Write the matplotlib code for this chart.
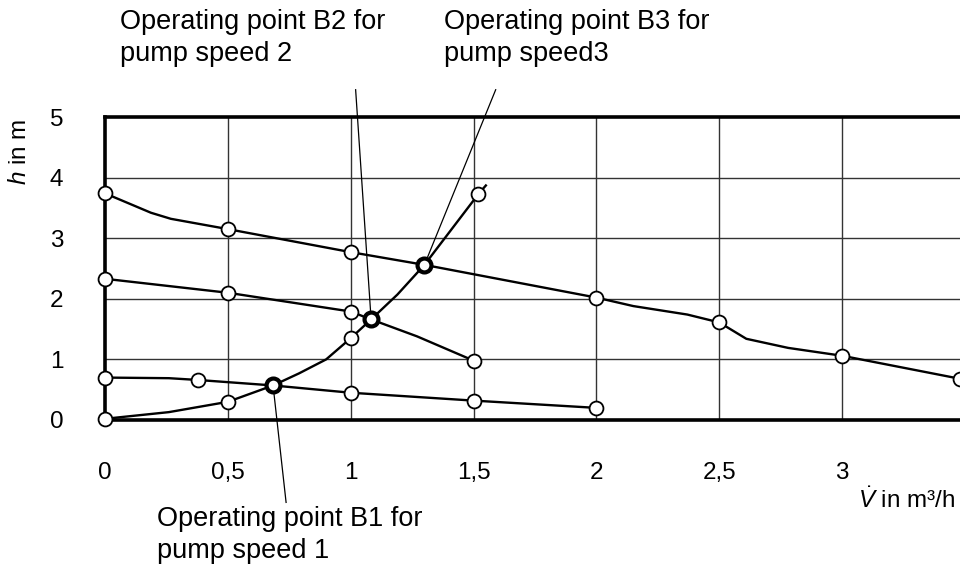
import matplotlib
matplotlib.use('Agg')
import matplotlib.pyplot as plt

plt.rcParams['font.family'] = ['Liberation Sans', 'DejaVu Sans']
plt.rcParams['mathtext.fontset'] = 'custom'
plt.rcParams['mathtext.rm'] = 'Liberation Sans'
plt.rcParams['mathtext.it'] = 'Liberation Sans:italic'

# flow rate V in m3/h, head h in m
speed1_x = [0, 0.26, 0.38, 0.684, 1.0, 1.5, 2.0]
speed1_y = [0.70, 0.69, 0.66, 0.57, 0.45, 0.32, 0.20]
speed1_mx = [0, 0.38, 1.0, 1.5, 2.0]
speed1_my = [0.70, 0.66, 0.45, 0.32, 0.20]

speed2_x = [0, 0.5, 1.0, 1.083, 1.27, 1.5]
speed2_y = [2.33, 2.10, 1.79, 1.66, 1.38, 0.98]
speed2_mx = [0, 0.5, 1.0, 1.5]
speed2_my = [2.33, 2.10, 1.79, 0.98]

speed3_x = [0, 0.187, 0.268, 0.5, 1.0, 1.3, 2.0, 2.15, 2.37, 2.5, 2.61, 2.78, 3.0, 3.48]
speed3_y = [3.74, 3.42, 3.32, 3.15, 2.77, 2.56, 2.02, 1.88, 1.74, 1.61, 1.34, 1.19, 1.06, 0.68]
speed3_mx = [0, 0.5, 1.0, 2.0, 2.5, 3.0, 3.48]
speed3_my = [3.74, 3.15, 2.77, 2.02, 1.61, 1.06, 0.68]

system_x = [0, 0.26, 0.5, 0.684, 0.79, 0.9, 1.0, 1.083, 1.19, 1.3, 1.52, 1.55]
system_y = [0.02, 0.13, 0.30, 0.57, 0.77, 1.0, 1.35, 1.66, 2.07, 2.56, 3.73, 3.87]
system_mx = [0, 0.5, 1.0, 1.52]
system_my = [0.02, 0.30, 1.35, 3.73]

op_x = [0.684, 1.083, 1.30]
op_y = [0.57, 1.66, 2.56]

x_ticks = [0, 0.5, 1, 1.5, 2, 2.5, 3]
x_labels = ['0', '0,5', '1', '1,5', '2', '2,5', '3']
y_ticks = [0, 1, 2, 3, 4, 5]

W, H = 960, 574
fig = plt.figure(figsize=(W / 100, H / 100), dpi=100)
ax = fig.add_axes([105 / W, (H - 420) / H, 860 / W, 303 / H])
ax.set_xlim(0, 3.5)
ax.set_ylim(0, 5)

for x in x_ticks[1:]:
    ax.axvline(x, color='#333333', lw=1.0, zorder=1)
for y in y_ticks[1:-1]:
    ax.axhline(y, color='#333333', lw=1.0, zorder=1)

for lx, ly, mx, my in [(speed1_x, speed1_y, speed1_mx, speed1_my),
                       (speed2_x, speed2_y, speed2_mx, speed2_my),
                       (speed3_x, speed3_y, speed3_mx, speed3_my),
                       (system_x, system_y, system_mx, system_my)]:
    ax.plot(lx, ly, color='black', lw=1.7, zorder=3, clip_on=False)
    ax.plot(mx, my, 'o', ms=10, mfc='white', mec='black', mew=1.3, zorder=5, clip_on=False)

ax.plot(op_x, op_y, 'o', ms=10, mfc='white', mec='black', mew=3, zorder=6, clip_on=False)

# pointer lines to the operating points
ax.plot([op_x[0], 0.737], [op_y[0], -1.36], color='black', lw=0.9, zorder=4, clip_on=False)
ax.plot([op_x[1], 1.02], [op_y[1], 5.45], color='black', lw=0.9, zorder=4, clip_on=False)
ax.plot([op_x[2], 1.59], [op_y[2], 5.45], color='black', lw=0.9, zorder=4, clip_on=False)

for s in ['left', 'bottom', 'top']:
    ax.spines[s].set_linewidth(2.6)
ax.spines['right'].set_visible(False)

ax.set_xticks(x_ticks)
ax.set_xticklabels(x_labels)
ax.set_yticks(y_ticks)
ax.tick_params(length=0, labelsize=17.5)
ax.tick_params(axis='x', pad=30)
ax.tick_params(axis='y', pad=30)

def ftext(px, py, s, **kw):
    fig.text(px / W, 1 - py / H, s, **kw)

ftext(20, 152, r'$h$ in m', rotation=90, ha='center', va='center', fontsize=17.5)
ftext(907, 500, r'$\dot{V}$ in m³/h', ha='center', va='center', fontsize=17.5)

ftext(120, 9, 'Operating point B2 for\npump speed 2', ha='left', va='top', fontsize=19.5, linespacing=1.3)
ftext(444, 9, 'Operating point B3 for\npump speed3', ha='left', va='top', fontsize=19.5, linespacing=1.3)
ftext(157, 506, 'Operating point B1 for\npump speed 1', ha='left', va='top', fontsize=19.5, linespacing=1.3)

fig.savefig('out.png', dpi=100)
